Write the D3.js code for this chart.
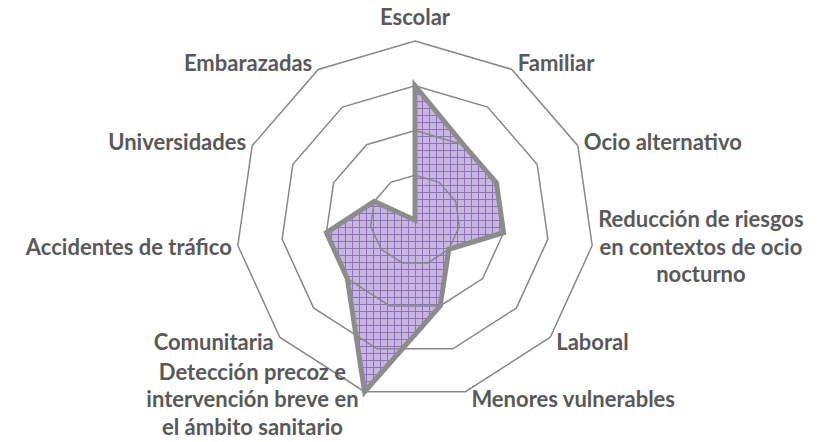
<!DOCTYPE html>
<html>
<head>
<meta charset="utf-8">
<script src="https://cdn.jsdelivr.net/npm/d3@7"></script>
<style>
    body { margin: 0; background: #fff; }
    svg { display: block; }
    .ring { fill: none; stroke: #888; stroke-width: 1.5; }
    .area { fill: url(#smallgrid); stroke: none; }
    .outline { fill: none; stroke: #8c8c8c; stroke-width: 5; stroke-linejoin: miter; }
    .label text {
        font-family: Lato, "Open Sans", sans-serif;
        font-weight: 700;
        font-size: 22px;
        fill: #595959;
    }
</style>
</head>
<body>
<svg id="chart" width="820" height="442"></svg>
<script>
// Categories clockwise from the top ("\n" = line break in the label)
var categories = [
    "Escolar",
    "Familiar",
    "Ocio alternativo",
    "Reducción de riesgos\nen contextos de ocio\nnocturno",
    "Laboral",
    "Menores vulnerables",
    "Detección precoz e\nintervención breve en\nel ámbito sanitario",
    "Comunitaria",
    "Accidentes de tráfico",
    "Universidades",
    "Embarazadas"
];
var values = [3, 2, 2, 2, 1, 2, 4, 2, 2, 1, 0];
var ringTicks = [1, 2, 3, 4];

var svg = d3.select("#chart");
var cx = 415, cy = 220, R = 179;
var n = categories.length;
var step = 2 * Math.PI / n;

// Pattern fill like the Excel "small grid"
var pat = svg.append("defs").append("pattern")
    .attr("id", "smallgrid")
    .attr("patternUnits", "userSpaceOnUse")
    .attr("width", 7).attr("height", 7);
pat.append("rect").attr("width", 7).attr("height", 7).attr("fill", "#c7b7df");
pat.append("path").attr("d", "M0,0.5H7M0.5,0V7")
    .attr("stroke", "#8f70c1").attr("stroke-width", 1).attr("fill", "none");

var r = d3.scaleLinear().domain([0, d3.max(ringTicks)]).range([0, R]);

var g = svg.append("g").attr("transform", "translate(" + cx + "," + cy + ")");

var radial = d3.lineRadial()
    .angle(function(d, i) { return i * step; })
    .radius(function(d) { return r(d); })
    .curve(d3.curveLinearClosed);

// filled area first, grid rings over it, then the thick outline
g.append("path").attr("class", "area").attr("d", radial(values));

g.selectAll(".ring")
    .data(ringTicks)
    .enter().append("path")
    .attr("class", "ring")
    .attr("d", function(t) { return radial(categories.map(function() { return t; })); });

g.append("path").attr("class", "outline").attr("d", radial(values));

// Labels around the outer ring
var lineH = 27.5, gap = 6;
var labels = g.append("g").attr("class", "label");

categories.forEach(function(cat, i) {
    var a = i * step;
    var s = Math.sin(a), c = Math.cos(a);
    var vx = r(d3.max(ringTicks)) * s, vy = -r(d3.max(ringTicks)) * c;
    var lines = cat.split("\n");
    var t = labels.append("text");
    lines.forEach(function(l) { t.append("tspan").text(l); });

    var base = vy + 8 - 8 * c;
    var x, anchor;
    if (Math.abs(s) < 0.05) {
        anchor = "middle"; x = vx; base = vy - 16;
    } else if (lines.length > 1) {
        var w = d3.max(t.selectAll("tspan").nodes(), function(nd) { return nd.getComputedTextLength(); });
        anchor = "middle"; x = vx + (s > 0 ? 1 : -1) * (w / 2 + gap);
    } else {
        anchor = s > 0 ? "start" : "end"; x = vx + (s > 0 ? gap : -gap);
    }
    t.attr("text-anchor", anchor);
    t.selectAll("tspan")
        .attr("x", x)
        .attr("y", function(d, k) { return base + (k - (lines.length - 1) / 2) * lineH; });
});
</script>
</body>
</html>
